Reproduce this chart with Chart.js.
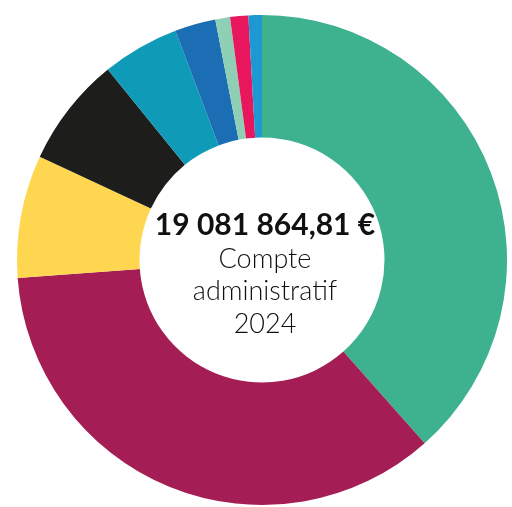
<!DOCTYPE html>
<html>
<head>
<meta charset="utf-8">
<script src="https://cdn.jsdelivr.net/npm/chart.js@4"></script>
<style>
  html, body { margin: 0; padding: 0; background: #ffffff; }
  #wrap { width: 512px; height: 507px; position: relative; }
</style>
</head>
<body>
<div id="wrap"><canvas id="c" width="512" height="507"></canvas></div>
<script>
const categories = [
  "Poste A", "Poste B", "Poste C", "Poste D", "Poste E",
  "Poste F", "Poste G", "Poste H", "Poste I"
];
const amounts = [7336000, 6752900, 1542450, 1383440, 970000, 514150, 185520, 227920, 169620];
const colors = ["#3eb18f", "#a51d55", "#fed64f", "#1d1d1b", "#0f9bb8", "#1b6db4", "#8fcfb5", "#e8175d", "#1d98d3"];
const totalLabel = "19 081 864,81 €";
const subtitleLines = ["Compte", "administratif", "2024"];

const centerText = {
  id: "centerText",
  afterDraw(chart) {
    const meta = chart.getDatasetMeta(0);
    const arc = meta.data[0];
    const cx = arc.x + 3, cy = arc.y;
    const ctx = chart.ctx;
    ctx.save();
    ctx.textAlign = "center";
    ctx.textBaseline = "middle";
    ctx.fillStyle = "#111111";
    ctx.font = "bold 30px Lato";
    ctx.fillText(totalLabel, cx, cy - 35);
    ctx.font = "300 27px Lato";
    ctx.fillText(subtitleLines[0], cx, cy - 1);
    ctx.fillText(subtitleLines[1], cx, cy + 31);
    ctx.fillText(subtitleLines[2], cx, cy + 64);
    ctx.restore();
  }
};

new Chart(document.getElementById("c"), {
  type: "doughnut",
  data: {
    labels: categories,
    datasets: [{
      data: amounts,
      backgroundColor: colors,
      borderWidth: 0
    }]
  },
  options: {
    responsive: false,
    animation: false,
    cutout: "50%",
    layout: { padding: { left: 17, right: 5, top: 15, bottom: 2 } },
    plugins: { legend: { display: false }, tooltip: { enabled: false } }
  },
  plugins: [centerText]
});
</script>
</body>
</html>
